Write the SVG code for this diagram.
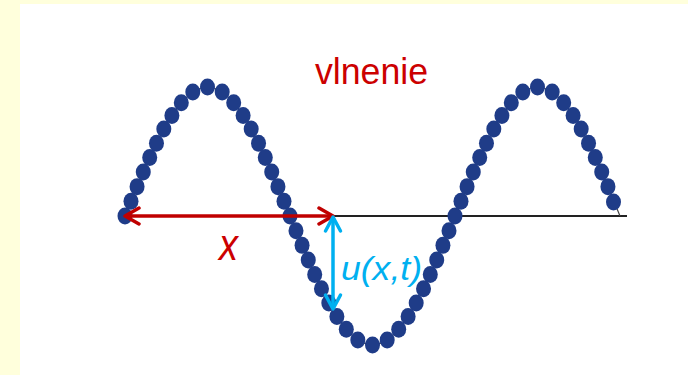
<svg xmlns="http://www.w3.org/2000/svg" width="688" height="375" viewBox="0 0 688 375">
<style>
.dot{fill:#1F3C88}
.lbl{font-family:"Liberation Sans",Arial,sans-serif}
</style>
<defs>
<marker id="redHead" viewBox="0 0 20 20" refX="17" refY="10" markerWidth="20" markerHeight="20" markerUnits="userSpaceOnUse" orient="auto-start-reverse">
<path d="M3,2 L17,10 L3,18" fill="none" stroke="#C00000" stroke-width="3.5" stroke-linecap="round" stroke-linejoin="round"/>
</marker>
<marker id="blueHead" viewBox="0 0 20 20" refX="17" refY="10" markerWidth="20" markerHeight="20" markerUnits="userSpaceOnUse" orient="auto-start-reverse">
<path d="M3,2.5 L17,10 L3,17.5" fill="none" stroke="#00B0F0" stroke-width="3.5" stroke-linecap="round" stroke-linejoin="round"/>
</marker>
</defs>
<rect x="0" y="0" width="688" height="375" fill="#FFFFDC"/>
<rect x="20" y="4" width="668" height="371" fill="#FFFFFF"/>
<g id="axis">
<line x1="125" y1="216" x2="627" y2="216" stroke="#222" stroke-width="2"/>
</g>
<g id="wave">
<path d="M125,216 C151.91,149.91 177.64,87 207.5,87 C237.36,87 263.09,149.91 290,216 C316.91,282.09 342.64,345 372.5,345 C402.36,345 428.09,282.09 455,216 C481.91,149.91 507.64,87 537.5,87 C567.36,87 593.09,149.91 620,216" fill="none" stroke="#444" stroke-width="1.2"/>
<ellipse class="dot" cx="125" cy="216" rx="7.5" ry="8.5"/>
<ellipse class="dot" cx="130.99" cy="201.31" rx="7.5" ry="8.5"/>
<ellipse class="dot" cx="137.06" cy="186.63" rx="7.5" ry="8.5"/>
<ellipse class="dot" cx="143.27" cy="172.02" rx="7.5" ry="8.5"/>
<ellipse class="dot" cx="149.71" cy="157.52" rx="7.5" ry="8.5"/>
<ellipse class="dot" cx="156.47" cy="143.24" rx="7.5" ry="8.5"/>
<ellipse class="dot" cx="163.82" cy="129.09" rx="7.5" ry="8.5"/>
<ellipse class="dot" cx="171.89" cy="115.51" rx="7.5" ry="8.5"/>
<ellipse class="dot" cx="181.30" cy="102.66" rx="7.5" ry="8.5"/>
<ellipse class="dot" cx="192.81" cy="92.02" rx="7.5" ry="8.5"/>
<ellipse class="dot" cx="207.5" cy="87" rx="7.5" ry="8.5"/>
<ellipse class="dot" cx="222.19" cy="92.02" rx="7.5" ry="8.5"/>
<ellipse class="dot" cx="233.70" cy="102.66" rx="7.5" ry="8.5"/>
<ellipse class="dot" cx="243.11" cy="115.51" rx="7.5" ry="8.5"/>
<ellipse class="dot" cx="251.18" cy="129.09" rx="7.5" ry="8.5"/>
<ellipse class="dot" cx="258.53" cy="143.24" rx="7.5" ry="8.5"/>
<ellipse class="dot" cx="265.29" cy="157.52" rx="7.5" ry="8.5"/>
<ellipse class="dot" cx="271.73" cy="172.02" rx="7.5" ry="8.5"/>
<ellipse class="dot" cx="277.94" cy="186.63" rx="7.5" ry="8.5"/>
<ellipse class="dot" cx="284.01" cy="201.31" rx="7.5" ry="8.5"/>
<ellipse class="dot" cx="290" cy="216" rx="7.5" ry="8.5"/>
<ellipse class="dot" cx="295.99" cy="230.69" rx="7.5" ry="8.5"/>
<ellipse class="dot" cx="302.06" cy="245.37" rx="7.5" ry="8.5"/>
<ellipse class="dot" cx="308.27" cy="259.98" rx="7.5" ry="8.5"/>
<ellipse class="dot" cx="314.71" cy="274.48" rx="7.5" ry="8.5"/>
<ellipse class="dot" cx="321.47" cy="288.76" rx="7.5" ry="8.5"/>
<ellipse class="dot" cx="328.82" cy="302.91" rx="7.5" ry="8.5"/>
<ellipse class="dot" cx="336.89" cy="316.49" rx="7.5" ry="8.5"/>
<ellipse class="dot" cx="346.30" cy="329.34" rx="7.5" ry="8.5"/>
<ellipse class="dot" cx="357.81" cy="339.98" rx="7.5" ry="8.5"/>
<ellipse class="dot" cx="372.5" cy="345" rx="7.5" ry="8.5"/>
<ellipse class="dot" cx="387.19" cy="339.98" rx="7.5" ry="8.5"/>
<ellipse class="dot" cx="398.70" cy="329.34" rx="7.5" ry="8.5"/>
<ellipse class="dot" cx="408.11" cy="316.49" rx="7.5" ry="8.5"/>
<ellipse class="dot" cx="416.18" cy="302.91" rx="7.5" ry="8.5"/>
<ellipse class="dot" cx="423.53" cy="288.76" rx="7.5" ry="8.5"/>
<ellipse class="dot" cx="430.29" cy="274.48" rx="7.5" ry="8.5"/>
<ellipse class="dot" cx="436.73" cy="259.98" rx="7.5" ry="8.5"/>
<ellipse class="dot" cx="442.94" cy="245.37" rx="7.5" ry="8.5"/>
<ellipse class="dot" cx="449.01" cy="230.69" rx="7.5" ry="8.5"/>
<ellipse class="dot" cx="455" cy="216" rx="7.5" ry="8.5"/>
<ellipse class="dot" cx="460.99" cy="201.31" rx="7.5" ry="8.5"/>
<ellipse class="dot" cx="467.06" cy="186.63" rx="7.5" ry="8.5"/>
<ellipse class="dot" cx="473.27" cy="172.02" rx="7.5" ry="8.5"/>
<ellipse class="dot" cx="479.71" cy="157.52" rx="7.5" ry="8.5"/>
<ellipse class="dot" cx="486.47" cy="143.24" rx="7.5" ry="8.5"/>
<ellipse class="dot" cx="493.82" cy="129.09" rx="7.5" ry="8.5"/>
<ellipse class="dot" cx="501.89" cy="115.51" rx="7.5" ry="8.5"/>
<ellipse class="dot" cx="511.30" cy="102.66" rx="7.5" ry="8.5"/>
<ellipse class="dot" cx="522.81" cy="92.02" rx="7.5" ry="8.5"/>
<ellipse class="dot" cx="537.5" cy="87" rx="7.5" ry="8.5"/>
<ellipse class="dot" cx="552.19" cy="92.02" rx="7.5" ry="8.5"/>
<ellipse class="dot" cx="563.70" cy="102.66" rx="7.5" ry="8.5"/>
<ellipse class="dot" cx="573.11" cy="115.51" rx="7.5" ry="8.5"/>
<ellipse class="dot" cx="581.18" cy="129.09" rx="7.5" ry="8.5"/>
<ellipse class="dot" cx="588.53" cy="143.24" rx="7.5" ry="8.5"/>
<ellipse class="dot" cx="595.29" cy="157.52" rx="7.5" ry="8.5"/>
<ellipse class="dot" cx="601.73" cy="172.02" rx="7.5" ry="8.5"/>
<ellipse class="dot" cx="607.94" cy="186.63" rx="7.5" ry="8.5"/>
<ellipse class="dot" cx="613.5" cy="202" rx="7.5" ry="8.5"/>
</g>
<g id="connectors">
<line x1="125" y1="216" x2="333" y2="216" stroke="#C00000" stroke-width="3.5" marker-start="url(#redHead)" marker-end="url(#redHead)"/>
<line x1="333" y1="217" x2="333" y2="309" stroke="#00B0F0" stroke-width="3.5" marker-start="url(#blueHead)" marker-end="url(#blueHead)"/>
</g>
<g id="title">
<text class="lbl" x="315" y="84" font-size="37" fill="#CC0000" textLength="113" lengthAdjust="spacingAndGlyphs">vlnenie</text>
</g>
<g id="label-x">
<text class="lbl" x="219" y="260" font-size="44" font-style="italic" fill="#CC0000" textLength="19" lengthAdjust="spacingAndGlyphs">x</text>
</g>
<g id="label-u">
<text class="lbl" x="341" y="280" font-size="33" font-style="italic" fill="#00B0F0" textLength="81" lengthAdjust="spacingAndGlyphs">u(x,t)</text>
</g>
</svg>
